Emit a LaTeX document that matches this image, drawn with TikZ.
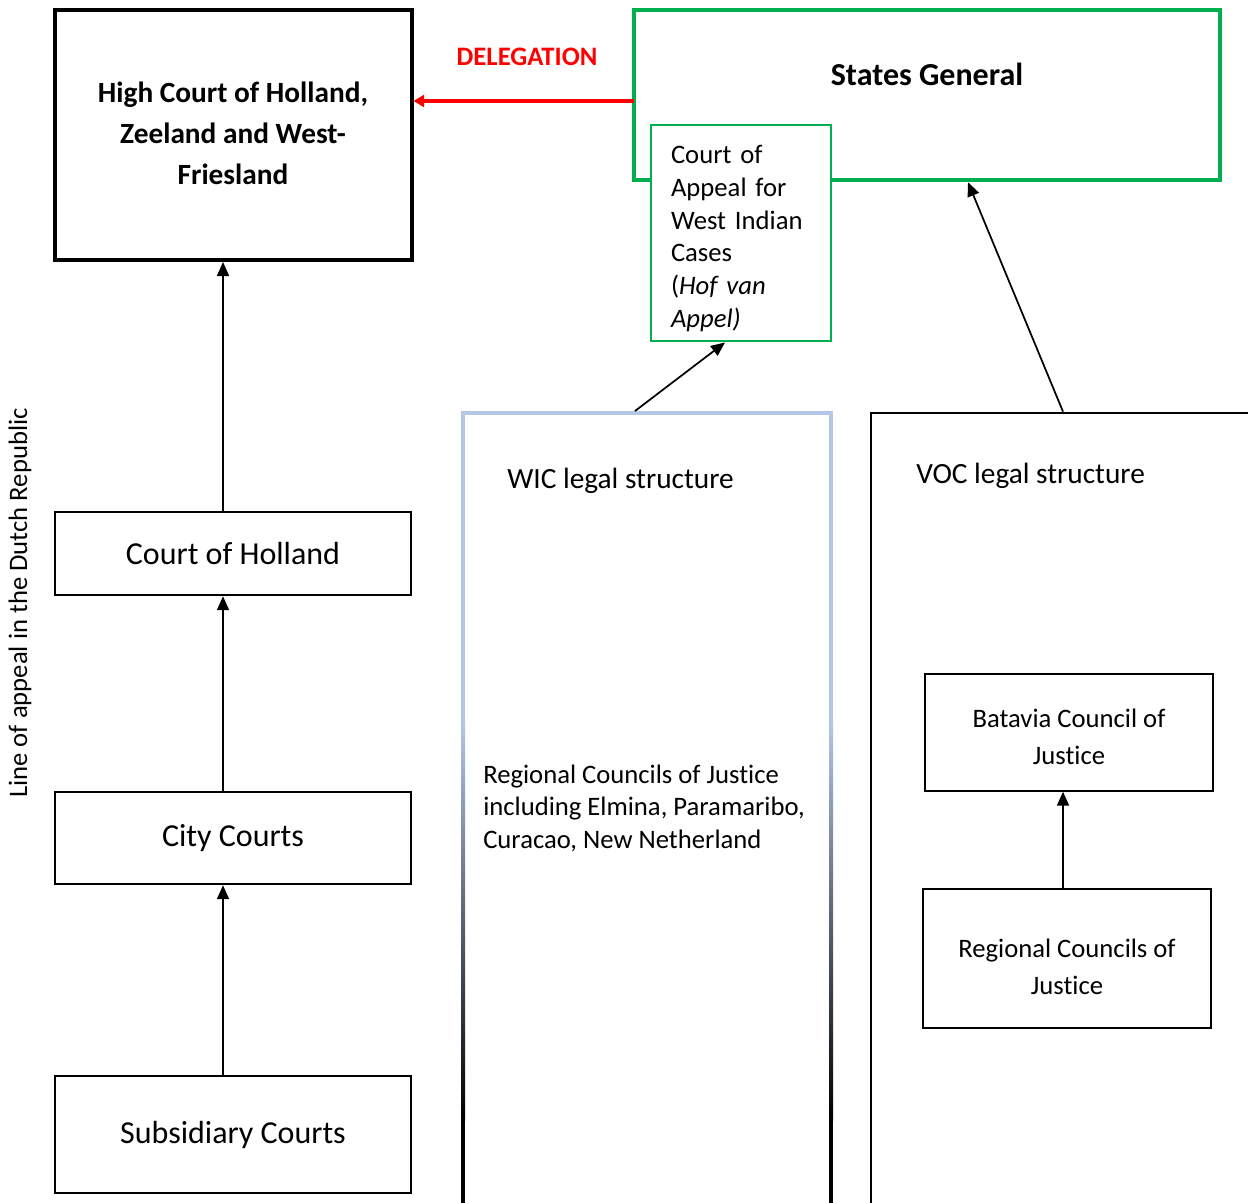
\documentclass[tikz,border=0pt]{standalone}
\usepackage{fontspec}
\setmainfont{Carlito}[Ligatures={NoCommon}]
\usepackage{tikz}
\usetikzlibrary{arrows.meta,positioning,calc}
\usepackage{xcolor}
\definecolor{wordgreen}{RGB}{0,176,80}
\definecolor{wicblue}{RGB}{180,199,231}
\definecolor{delred}{RGB}{255,0,0}

\tikzset{
  courtbox/.style={rectangle,draw,line width=1.8pt,minimum width=267pt,align=center,inner sep=0pt,font=\fontsize{24}{29}\selectfont},
  councilbox/.style={rectangle,draw,line width=1pt,minimum width=216pt,align=center,inner sep=0pt,font=\fontsize{20}{27.75}\selectfont},
  plaintext/.style={inner sep=0pt,align=left,font=\fontsize{20}{24.4}\selectfont},
  uparrow/.style={line width=1.3pt,-{Triangle[length=10.5pt,width=9pt]}},
  delarrow/.style={line width=3pt,delred,-{Triangle[length=8pt,width=9pt]}}
}

\begin{document}
\begin{tikzpicture}[x=0.75pt,y=-0.75pt]
        \useasboundingbox (0,0) rectangle (1248,1202);
        \clip (0,0) rectangle (1248,1202);

        % Dutch Republic line of appeal
        \node[courtbox,line width=3pt,minimum height=187.5pt,minimum width=267.75pt,font=\bfseries\fontsize{22}{30.75}\selectfont] (highcourt) at (233,135) {High Court of Holland,\\Zeeland and West-\\Friesland\rule[-3pt]{0pt}{3pt}};
        \node[courtbox,minimum height=62.25pt] (holland) at (233,553.5) {Court of Holland};
        \node[courtbox,minimum height=69pt] (city) at (233,838) {City Courts};
        \node[courtbox,minimum height=87.75pt] (subsidiary) at (233,1134.5) {Subsidiary Courts};
        \node[plaintext,rotate=90] (appealline) at (20,603) {Line of appeal in the Dutch Republic};

        \draw[uparrow] ([xshift=-7.5pt]subsidiary.north) -- ([xshift=-7.5pt]city.south);
        \draw[uparrow] ([xshift=-7.5pt]city.north) -- ([xshift=-7.5pt]holland.south);
        \draw[uparrow] ([xshift=-7.5pt]holland.north) -- ([xshift=-7.5pt]highcourt.south);

        % States General and delegation
        \node[rectangle,draw=wordgreen,line width=3.4pt,minimum width=439.5pt,minimum height=127.5pt] (states) at (927,95) {};
        \node[inner sep=0pt,font=\bfseries\fontsize{24}{29}\selectfont] (stateslabel) at (927,74) {States General};
        \coordinate (delstart) at (634,101);
        \draw[delarrow] (delstart) -- (delstart -| highcourt.east);
        \node[inner sep=0pt,text=delred,font=\bfseries\fontsize{20}{24}\selectfont] (delegation) at (527,57) {DELEGATION};

        % Court of Appeal
        \node[rectangle,draw=wordgreen,fill=white,line width=2.2pt,minimum width=135pt,minimum height=162pt,text width=105pt,inner xsep=15pt,align=left,font=\fontsize{20}{24.6}\selectfont] (appeal) at (741,233) {\rule{0pt}{22pt}Court of\\Appeal for\\West Indian\\Cases\\(\textit{Hof van}\\\textit{Appel)}};

        % WIC legal structure
        \node[rectangle,draw=wicblue,line width=3pt,minimum width=276pt,minimum height=635.25pt] (wic) at (647,836.5) {};
        \foreach \side in {463,831} {
            \shade[top color=wicblue,bottom color=black] (\side-2,720) rectangle (\side+2,1120);
            \fill[black] (\side-2,1119) rectangle (\side+2,1210);
        }
        \node[plaintext,anchor=west,font=\fontsize{22}{26}\selectfont] (wictitle) at (507,481) {WIC legal structure};
        \node[plaintext,anchor=west] (wiccouncils) at (483,808) {Regional Councils of Justice\\including Elmina, Paramaribo,\\Curacao, New Netherland};
        \draw[uparrow] ([xshift=-9pt]wic.north) -- ([xshift=-12pt]appeal.south);

        % VOC legal structure
        \node[rectangle,draw,line width=2pt,minimum width=300pt,minimum height=635.25pt] (voc) at (1071,836.5) {};
        \node[plaintext,anchor=west,font=\fontsize{22}{26}\selectfont] (voctitle) at (916,476) {VOC legal structure};
        \node[councilbox,minimum height=87.75pt] (batavia) at (1069,732.5) {\rule{0pt}{21pt}Batavia Council of\\Justice};
        \node[councilbox,minimum height=104.25pt] (regional) at (1067,958.5) {\rule{0pt}{27pt}Regional Councils of\\Justice};
        \draw[uparrow] ([xshift=-3pt]regional.north) -- ([xshift=-4.5pt]batavia.south);
        \draw[uparrow] ([xshift=-6pt]voc.north) -- ([xshift=30.75pt]states.south);
    \end{tikzpicture}
\end{document}
